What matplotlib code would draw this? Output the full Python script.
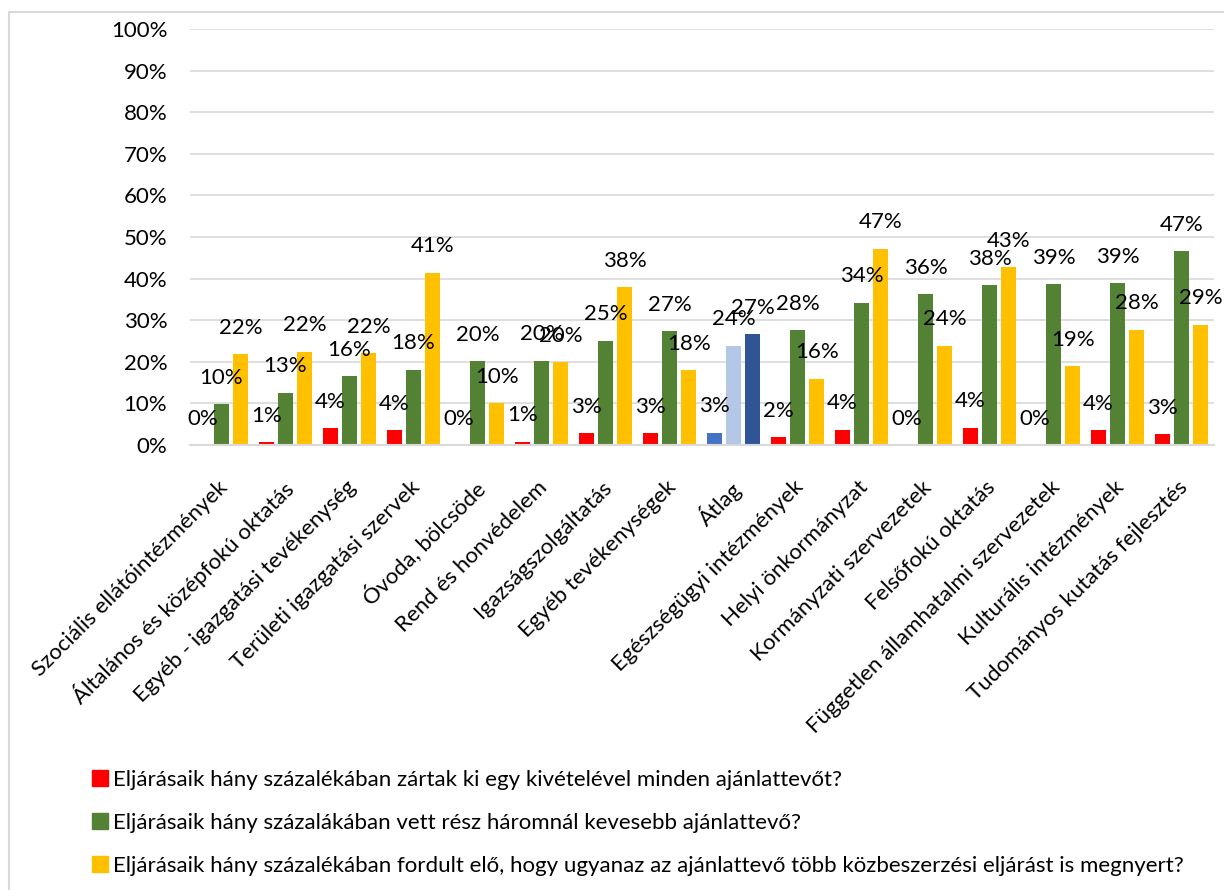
import numpy as np
import matplotlib
matplotlib.use('Agg')
import matplotlib.pyplot as plt
import matplotlib.transforms as mtransforms
from matplotlib.patches import Rectangle, Patch

plt.rcParams['font.family'] = ['Lato', 'DejaVu Sans']

categories = ['Szociális ellátóintézmények', 'Általános és középfokú oktatás',
              'Egyéb - igazgatási tevékenység', 'Területi igazgatási szervek',
              'Óvoda, bölcsöde', 'Rend és honvédelem', 'Igazságszolgáltatás',
              'Egyéb tevékenységek', 'Átlag', 'Egészségügyi intézmények',
              'Helyi önkormányzat', 'Kormányzati szervezetek', 'Felsőfokú oktatás',
              'Független államhatalmi szervezetek', 'Kulturális intézmények',
              'Tudományos kutatás fejlesztés']

excluded = [0.0, 0.7, 4.1, 3.6, 0.0, 0.8, 2.8, 2.8, 3.0, 1.9, 3.7, 0.0, 4.2, 0.0, 3.5, 2.6]
few_bidders = [9.8, 12.6, 16.5, 18.1, 20.1, 20.3, 25.1, 27.3, 23.9, 27.6, 34.2, 36.3, 38.4, 38.7, 38.9, 46.6]
same_winner = [21.8, 22.4, 22.0, 41.4, 10.0, 19.9, 38.0, 18.0, 26.7, 15.9, 47.2, 23.9, 42.7, 18.9, 27.7, 28.9]

legend_labels = ['Eljárásaik hány százalékában zártak ki egy kivételével minden ajánlattevőt?',
                 'Eljárásaik hány százalákában vett rész háromnál kevesebb ajánlattevő?',
                 'Eljárásaik hány százalékában fordult elő, hogy ugyanaz az ajánlattevő több közbeszerzési eljárást is megnyert?']

colors = ['#FF0000', '#548235', '#FFC000']
avg_colors = ['#4472C4', '#B4C7E7', '#2F5597']

fig = plt.figure(figsize=(12.24, 8.9), dpi=100)
ax = fig.add_axes([189.5 / 1224, 1 - 445 / 890, 1024 / 1224, 416 / 890])

# light gray frame around the chart area
fig.patches.append(Rectangle((9 / 1224, -0.1), 1.2, 1 - 12 / 890 + 0.1, transform=fig.transFigure,
                             fill=False, edgecolor='#D9D9D9', linewidth=1.5))

x = np.arange(len(categories))
offsets = [-0.3, 0.0, 0.3]
width = 0.24
avg_i = categories.index('Átlag')

for k, series in enumerate([excluded, few_bidders, same_winner]):
    cols = [avg_colors[k] if i == avg_i else colors[k] for i in range(len(categories))]
    bars = ax.bar(x + offsets[k], series, width, color=cols, zorder=2)
    for b, v in zip(bars, series):
        ax.annotate(f'{v:.0f}%', (b.get_x() + b.get_width() / 2, v),
                    xytext=(0, 19), textcoords='offset points',
                    ha='center', va='center', fontsize=16, color='#000000', zorder=3)

ax.set_ylim(0, 100)
ax.set_xlim(-0.5, len(categories) - 0.5)
ax.set_yticks(np.arange(0, 101, 10))
ax.set_yticklabels([f'{t}%' for t in range(0, 101, 10)], fontsize=16)
ax.yaxis.grid(True, color='#D9D9D9', linewidth=1.2, zorder=0)
ax.set_axisbelow(True)
for s in ['top', 'right', 'left']:
    ax.spines[s].set_visible(False)
ax.spines['bottom'].set_color('#D9D9D9')
ax.spines['bottom'].set_linewidth(1.5)
ax.tick_params(axis='y', length=0, pad=16)
ax.tick_params(axis='x', length=0, pad=23)
ax.set_xticks(x)
ax.set_xticklabels(categories, rotation=45, ha='right', va='top', rotation_mode='anchor', fontsize=16)
shift = mtransforms.ScaledTranslation(-4 / 100, 0, fig.dpi_scale_trans)
for lab in ax.get_xticklabels():
    lab.set_transform(lab.get_transform() + shift)

handles = [Patch(color=c) for c in colors]
fig.legend(handles, legend_labels, loc='upper left', bbox_to_anchor=(72 / 1224, 1 - 750 / 890),
           frameon=False, fontsize=16, handlelength=0.7, handleheight=0.7,
           handletextpad=0.25, labelspacing=1.03)

fig.savefig('out.png', dpi=100)
